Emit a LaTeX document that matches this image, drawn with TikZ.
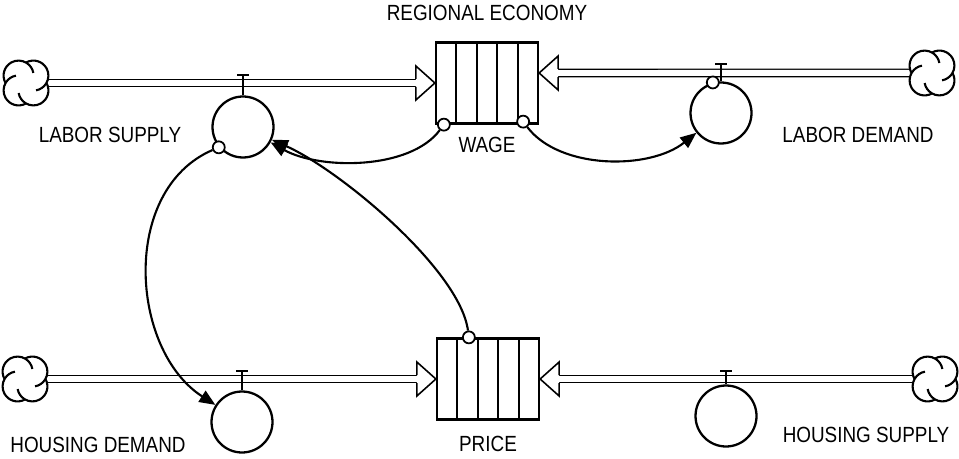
\documentclass[tikz,border=0pt]{standalone}
\usepackage{fontspec}
\setmainfont{Liberation Sans}[FakeStretch=0.86]
\usetikzlibrary{arrows.meta, positioning, calc}

\tikzset{
  srccloud/.pic={
    \foreach \a in {45,135,225,315}
      \draw[line width=1.2pt] (\a:10.5) ++(\a-73.7:15)
        arc[start angle=\a-73.7, end angle=\a+125, radius=15];
  },
  flowtip/.pic={
    \draw[line width=0.9pt, fill=white]
      (-19,-4) -- (-19,-17) -- (0,0) -- (-19,17) -- (-19,4);
  },
}

\begin{document}
\begin{tikzpicture}[x=0.02cm, y=-0.02cm,
    stock/.style={draw, line width=1.3pt, minimum width=2.04cm,
      minimum height=1.62cm, inner sep=0,
      path picture={\foreach \i in {1,...,4}
        \draw[line width=1.2pt]
          ($(path picture bounding box.north west)!\i/5!(path picture bounding box.north east)$) --
          ($(path picture bounding box.south west)!\i/5!(path picture bounding box.south east)$);}},
    valve/.style={circle, draw, line width=1.3pt, minimum size=1.22cm, inner sep=0},
    tapdot/.style={circle, draw, line width=1pt, fill=white,
      minimum size=0.24cm, inner sep=0},
    cloudspot/.style={circle, minimum size=0.9cm, inner sep=0},
    pipe/.style={double, double distance=0.12cm, line width=0.8pt},
    link/.style={line width=1.2pt, -{Triangle[length=0.32cm, width=0.26cm]}},
    lbl/.style={font=\fontsize{12.5}{14}\selectfont, inner sep=0},
  ]
  \useasboundingbox (0,0) rectangle (959,459);

  % --- stocks ---
  \node[stock] (wage) at (487,83) {};
  \node[stock] (price) at (488,379) {};
  \node[lbl, above=0.4cm of wage] (wageTitle) {REGIONAL ECONOMY};
  \node[lbl, below=0.24cm of wage] (wageLabel) {WAGE};
  \node[lbl, below=0.3cm of price] (priceLabel) {PRICE};

  % --- flow valves ---
  \node[valve] (ls) at (243,127) {};
  \node[valve] (ld) at (721,113) {};
  \node[valve] (hd) at (242,422) {};
  \node[valve] (hs) at (726,416) {};
  \node[lbl] (lsLabel) at (110,135) {LABOR SUPPLY};
  \node[lbl] (ldLabel) at (858,135) {LABOR DEMAND};
  \node[lbl] (hdLabel) at (98,445) {HOUSING DEMAND};
  \node[lbl] (hsLabel) at (866,435) {HOUSING SUPPLY};

  % --- sources and sinks ---
  \node[cloudspot] (srcLS) at (26,83) {};
  \node[cloudspot] (sinkLD) at (932,73) {};
  \node[cloudspot] (srcHD) at (25,379) {};
  \node[cloudspot] (sinkHS) at (935,379) {};
  \foreach \c in {srcLS,sinkLD,srcHD,sinkHS}
    \pic at (\c) {srccloud};

  % --- pipes ---
  \draw[pipe] (srcLS) -- ([xshift=-0.38cm]wage.west);
  \pic at (wage.west) {flowtip};
  \draw[pipe] (sinkLD) -- ([xshift=0.36cm, yshift=0.2cm]wage.east);
  \pic[rotate=180] at ([yshift=0.2cm]wage.east) {flowtip};
  \draw[pipe] (srcHD) -- ([xshift=-0.38cm]price.west);
  \pic at (price.west) {flowtip};
  \draw[pipe] (sinkHS) -- ([xshift=0.38cm]price.east);
  \pic[rotate=180] at (price.east) {flowtip};

  % --- valve stems ---
  \draw[line width=1.1pt] (ls.north) -- ++(0,-20) ++(-6,0) -- ++(12,0);
  \draw[line width=1.1pt] (ld.north) -- ++(0,-17) ++(-6,0) -- ++(12,0);
  \draw[line width=1.1pt] (hd.north) -- ++(0,-19) ++(-6,0) -- ++(12,0);
  \draw[line width=1.1pt] (hs.north) -- ++(0,-13) ++(-6,0) -- ++(12,0);

  % --- connectors ---
  \node[tapdot] (wageOutL) at ([xshift=0.18cm]wage.south west) {};
  \node[tapdot] (wageOutR) at ([xshift=-0.32cm, yshift=0.06cm]wage.south east) {};
  \node[tapdot] (lsOut) at (ls.220) {};
  \node[tapdot] (ldOut) at (ld.105) {};
  \node[tapdot] (priceOut) at ([xshift=0.66cm]price.north west) {};

  \draw[link] (wageOutL) .. controls (410,170) and (320,170) .. (ls);
  \draw[link] (wageOutR) .. controls (560,170) and (650,170) .. (ld);
  \draw[link] (lsOut) .. controls (120,190) and (130,350) .. (hd);
  \draw[link] (priceOut) .. controls (460,270) and (340,170) .. (ls);
\end{tikzpicture}
\end{document}
